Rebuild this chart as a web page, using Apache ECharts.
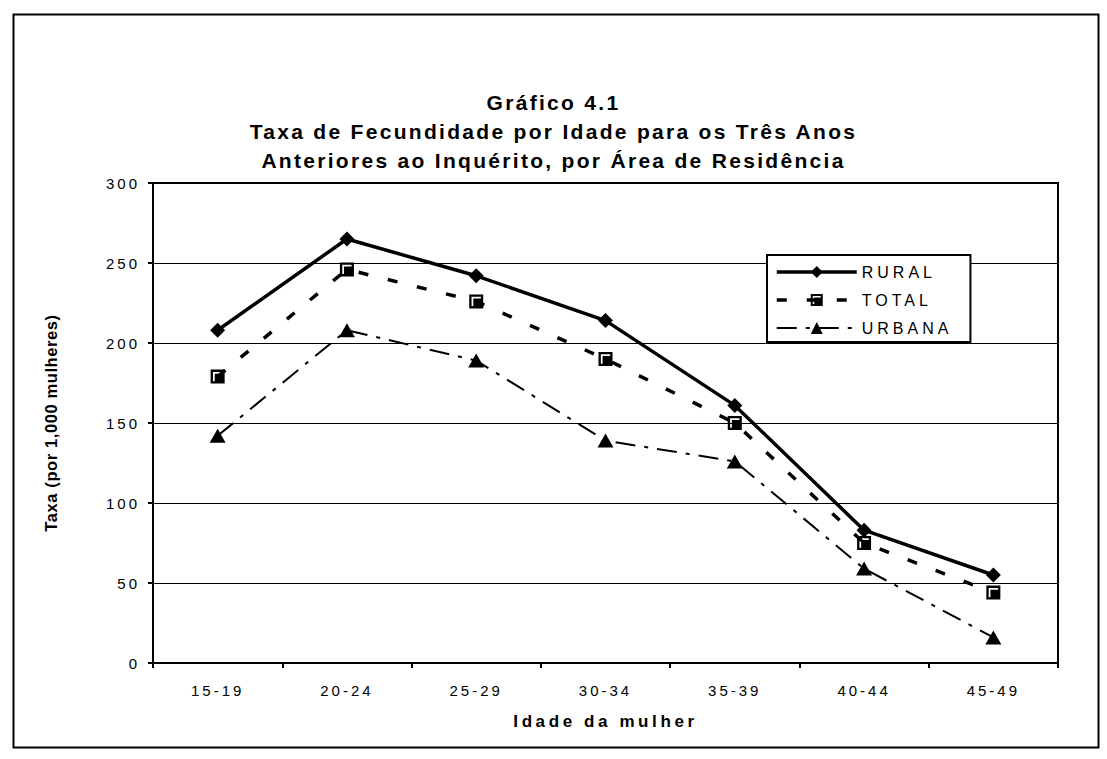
<!DOCTYPE html>
<html>
<head>
<meta charset="utf-8">
<script src="https://cdn.jsdelivr.net/npm/echarts@6/dist/echarts.min.js"></script>
<style>
html,body{margin:0;padding:0;background:#fff}
#chart{width:1107px;height:759px}
#chart text[style*="21px"]{letter-spacing:2.3px}
#chart text[style*="15px"]{letter-spacing:3px}
#chart text[style*="16px"]{letter-spacing:4px}
#chart text[style*="17px"]{letter-spacing:3.6px}
#chart text[style*="16.5px"]{letter-spacing:0.6px}
</style>
</head>
<body>
<div id="chart"></div>
<script>
// ---- data ----
const categories = ['15-19', '20-24', '25-29', '30-34', '35-39', '40-44', '45-49'];
const seriesNames = ['RURAL', 'TOTAL', 'URBANA'];
const rural  = [208, 265, 242, 214, 161, 83, 55];
const total  = [179, 246, 226, 190, 150, 75, 44];
const urbana = [142, 208, 189, 139, 126, 59, 16];
const yMin = 0, yMax = 300, yInterval = 50;
const titleLines = [
  'Gráfico 4.1',
  'Taxa de Fecundidade por Idade para os Três Anos',
  'Anteriores ao Inquérito, por Área de Residência'
];
const xAxisName = 'Idade da mulher';
const yAxisName = 'Taxa (por 1,000 mulheres)';

// ---- chart ----
const FONT = 'Liberation Sans, Arial, sans-serif';
const SQUARE = 'path://M0,0 L12,0 L12,12 L0,12 Z M2,2 L2,10 L3.5,10 L3.5,3.5 L10,3.5 L10,2 Z';
const chart = echarts.init(document.getElementById('chart'), null, {renderer: 'svg'});
chart.setOption({
  animation: false,
  backgroundColor: '#fff',
  title: {
    text: titleLines.join('\n'),
    left: 'center', top: 88, padding: 0,
    textStyle: {fontFamily: FONT, fontSize: 21, fontWeight: 'bold', color: '#000', lineHeight: 29}
  },
  legend: {
    orient: 'vertical', left: 767, top: 255,
    padding: [9, 42, 6, 8], itemGap: 12, itemWidth: 80, itemHeight: 15,
    backgroundColor: '#fff', borderColor: '#000', borderWidth: 2, borderRadius: 0,
    lineStyle: {width: 'inherit', type: 'inherit', color: 'inherit'},
    textStyle: {fontFamily: FONT, fontSize: 16, color: '#000'},
    data: seriesNames
  },
  grid: {left: 153, right: 49, top: 183, bottom: 96, show: true, borderColor: '#000', borderWidth: 2},
  graphic: [{
    type: 'rect', left: 11, top: 12, silent: true,
    shape: {x: 0, y: 0, width: 1085, height: 733},
    style: {fill: 'none', stroke: '#000', lineWidth: 2}
  }],
  xAxis: {
    type: 'category', data: categories, boundaryGap: true,
    name: xAxisName, nameLocation: 'middle', nameGap: 50,
    nameTextStyle: {fontFamily: FONT, fontSize: 17, fontWeight: 'bold', color: '#000'},
    axisLine: {lineStyle: {color: '#000', width: 2}},
    axisTick: {show: true, length: 5, lineStyle: {color: '#000', width: 2}},
    axisLabel: {fontFamily: FONT, fontSize: 15, color: '#000', margin: 20},
    splitLine: {show: false}
  },
  yAxis: {
    type: 'value', min: yMin, max: yMax, interval: yInterval,
    name: yAxisName, nameLocation: 'middle', nameGap: 94,
    nameTextStyle: {fontFamily: FONT, fontSize: 16.5, fontWeight: 'bold', color: '#000'},
    axisLine: {show: true, lineStyle: {color: '#000', width: 2}},
    axisTick: {show: true, length: 5, lineStyle: {color: '#000', width: 2}},
    axisLabel: {fontFamily: FONT, fontSize: 15, color: '#000', margin: 13},
    splitLine: {show: true, lineStyle: {color: '#000', width: 1}}
  },
  series: [
    {name: seriesNames[0], type: 'line', data: rural, symbol: 'diamond', symbolSize: 15,
     lineStyle: {color: '#000', width: 3.5, type: 'solid'}, itemStyle: {color: '#000'}, z: 4,
     emphasis: {disabled: true}},
    {name: seriesNames[1], type: 'line', data: total, symbol: SQUARE, symbolSize: 14,
     lineStyle: {color: '#000', width: 3.5, type: [10, 20]}, itemStyle: {color: '#000'}, z: 3,
     emphasis: {disabled: true}},
    {name: seriesNames[2], type: 'line', data: urbana, symbol: 'triangle', symbolSize: [16, 14],
     lineStyle: {color: '#000', width: 2, type: [20, 9, 4, 9]}, itemStyle: {color: '#000'}, z: 2,
     emphasis: {disabled: true}}
  ]
});
</script>
</body>
</html>
